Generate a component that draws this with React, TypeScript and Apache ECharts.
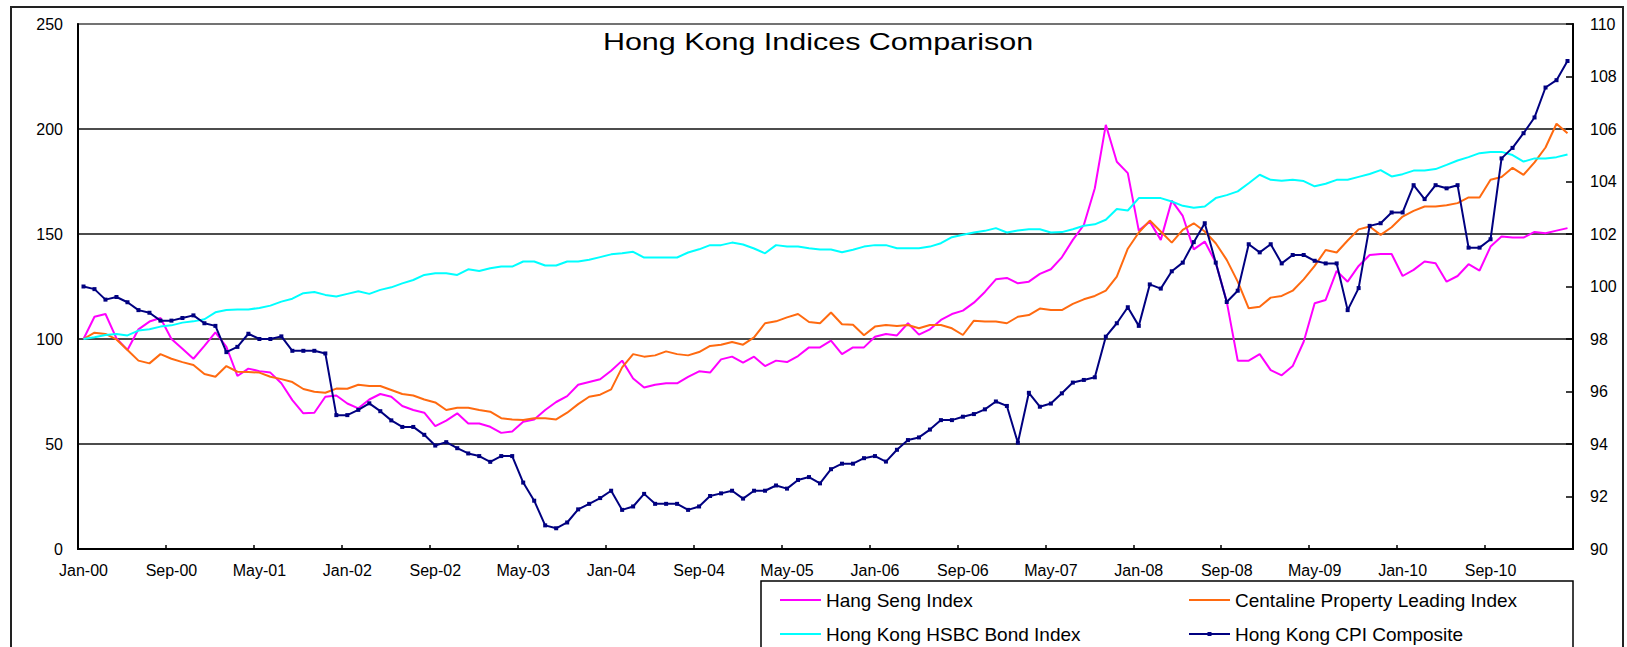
import React, { useEffect, useRef } from "react";
import * as echarts from "echarts";

const MONTH_NAMES = ["Jan", "Feb", "Mar", "Apr", "May", "Jun", "Jul", "Aug", "Sep", "Oct", "Nov", "Dec"];
// Monthly categories Jan-00 .. Apr-11
const months: string[] = [];
for (let i = 0; i < 136; i++) {
  const y = 2000 + Math.floor(i / 12);
  months.push(`${MONTH_NAMES[i % 12]}-${String(y % 100).padStart(2, "0")}`);
}

const hangSeng = [
  100, 110.6, 111.9, 100.3, 94.8, 104.6, 108.3, 110.0, 100, 95.4, 90.6, 96.7,
  103.2, 96.3, 82.4, 85.9, 84.7, 84.0, 78.9, 70.9, 64.6, 64.9, 72.5, 73.1,
  69.3, 67.0, 71.2, 73.8, 72.5, 68.1, 66.2, 64.9, 58.5, 61.1, 64.6, 59.8,
  59.8, 58.2, 55.3, 56.0, 60.6, 61.7, 66.2, 70.0, 72.8, 78.2, 79.5, 80.8,
  84.9, 89.7, 81.2, 76.9, 78.2, 78.9, 78.9, 82.0, 84.6, 84.0, 90.3, 91.6,
  88.7, 91.6, 87.1, 89.7, 89.0, 91.9, 96.0, 96.0, 99.2, 92.8, 96.0, 96.0,
  101.1, 102.4, 101.7, 107.5, 102.1, 104.6, 109.1, 111.9, 113.5, 117.3, 122.4, 128.4,
  129.1, 126.5, 127.3, 131.0, 133.2, 138.9, 147.2, 154.3, 171.8, 202.0, 184.4, 179.0,
  151.6, 155.9, 147.2, 165.9, 158.6, 142.7, 146.4, 136.4, 117.8, 89.7, 89.7, 92.8,
  85.2, 82.7, 87.1, 98.7, 117.0, 118.6, 132.4, 127.3, 134.8, 140.0, 140.5, 140.5,
  130.0, 132.9, 136.9, 136.1, 127.3, 130.0, 135.6, 132.6, 144.0, 148.8, 148.3, 148.3,
  151.0, 150.4, 151.6, 152.8,
];

const centaline = [
  100, 103, 102.4, 99.8, 94.8, 89.7, 88.4, 92.8, 90.6, 89.0, 87.6, 83.3,
  82.0, 87.1, 84.4, 84.3, 84.0, 82.0, 80.9, 79.5, 76.2, 74.9, 74.4, 76.4,
  76.3, 78.2, 77.6, 77.6, 75.7, 73.8, 73.1, 71.2, 69.8, 66.2, 67.3, 67.3,
  66.2, 65.4, 62.3, 61.7, 61.4, 62.3, 62.3, 61.7, 64.9, 69.0, 72.5, 73.5,
  76.0, 86.5, 92.8, 91.6, 92.2, 94.1, 92.8, 92.2, 93.8, 96.7, 97.3, 98.6,
  97.3, 100.8, 107.5, 108.4, 110.3, 111.9, 108.1, 107.5, 112.6, 107.0, 106.8, 101.8,
  105.9, 106.7, 106.2, 106.7, 105.1, 106.7, 106.7, 105.1, 101.9, 108.7, 108.3, 108.3,
  107.5, 110.6, 111.4, 114.5, 113.8, 113.8, 116.7, 118.9, 120.5, 123.0, 129.7, 143.0,
  150.7, 156.4, 151.2, 145.9, 152.0, 155.1, 151.2, 145.6, 137.7, 127.3, 114.6, 115.4,
  119.7, 120.5, 123.0, 128.4, 134.8, 142.4, 141.2, 146.9, 152.2, 153.6, 149.6, 153.2,
  158.3, 161.0, 163.1, 163.1, 163.7, 164.7, 167.4, 167.4, 175.8, 177.1, 181.5, 178.2,
  184.1, 191.2, 202.5, 198.0,
];

const hsbcBond = [
  100, 100.8, 101.9, 102.4, 101.7, 104, 104.6, 105.9, 106.5, 107.8, 108.4, 109.4,
  112.7, 113.8, 114.1, 114.1, 114.8, 115.9, 117.8, 119.2, 121.8, 122.4, 121, 120.2,
  121.5, 122.7, 121.5, 123.4, 124.6, 126.5, 128.1, 130.5, 131.3, 131.3, 130.5, 133.2,
  132.4, 133.7, 134.5, 134.5, 136.9, 136.9, 135.0, 135.0, 136.9, 136.9, 137.7, 139.0,
  140.3, 140.8, 141.5, 138.8, 138.8, 138.8, 138.8, 141.2, 142.7, 144.7, 144.7, 145.9,
  145.0, 143.1, 140.8, 144.7, 144.0, 144.0, 143.2, 142.6, 142.6, 141.3, 142.5, 144.0,
  144.7, 144.7, 143.2, 143.2, 143.2, 144.0, 145.6, 148.5, 149.6, 150.7, 151.5, 152.8,
  150.7, 151.7, 152.3, 152.3, 150.7, 150.9, 152.3, 153.9, 154.6, 156.8, 161.9, 161.2,
  167.1, 167.1, 167.1, 165.5, 163.4, 162.5, 163.1, 167.1, 168.5, 170.3, 174.2, 178.2,
  175.8, 175.3, 175.8, 175.2, 172.7, 173.9, 175.8, 175.8, 177.2, 178.6, 180.4, 177.4,
  178.5, 180.2, 180.2, 180.9, 182.9, 185.0, 186.6, 188.5, 189.1, 189.1, 187.6, 184.5,
  186.0, 186.0, 186.6, 187.9,
];

const cpiComposite = [
  100.0, 99.9, 99.5, 99.6, 99.4, 99.1, 99.0, 98.7, 98.7, 98.8, 98.9, 98.6,
  98.5, 97.5, 97.7, 98.2, 98.0, 98.0, 98.1, 97.55, 97.55, 97.55, 97.45, 95.1,
  95.1, 95.3, 95.55, 95.25, 94.9, 94.65, 94.65, 94.35, 93.94, 94.07, 93.84, 93.64,
  93.54, 93.32, 93.54, 93.54, 92.53, 91.84, 90.9, 90.79, 91.01, 91.51, 91.72, 91.94,
  92.22, 91.49, 91.62, 92.1, 91.72, 91.72, 91.72, 91.49, 91.62, 92.02, 92.12, 92.22,
  91.92, 92.22, 92.22, 92.42, 92.3, 92.63, 92.74, 92.5, 93.04, 93.25, 93.25, 93.46,
  93.54, 93.33, 93.78, 94.15, 94.25, 94.55, 94.91, 94.91, 95.04, 95.14, 95.32, 95.62,
  95.45, 94.05, 95.95, 95.42, 95.54, 95.93, 96.34, 96.44, 96.54, 98.09, 98.6, 99.21,
  98.5, 100.08, 99.92, 100.58, 100.91, 101.69, 102.41, 100.91, 99.41, 99.84, 101.61, 101.3,
  101.61, 100.88, 101.2, 101.2, 100.98, 100.88, 100.88, 99.1, 99.94, 102.31, 102.41, 102.82,
  102.82, 103.86, 103.33, 103.86, 103.74, 103.86, 101.48, 101.48, 101.8, 104.88, 105.28, 105.84,
  106.44, 107.58, 107.86, 108.59,
];

const leftTicks = { min: 0, max: 250, interval: 50 };
const rightTicks = { min: 90, max: 110, interval: 2 };

const TITLE = "Hong Kong Indices Comparison";
const FONT = '"Liberation Sans", Arial, Helvetica, sans-serif';

// legend glyphs: a plain line, and a line with a small square marker
const LINE_ICON = "path://M0,2h41v2h-41z";
const MARKER_ICON = "path://M0,2h41v2h-41z M18.5,1h4v4h-4z";

export default function App() {
  const ref = useRef<HTMLDivElement>(null);

  useEffect(() => {
    if (!ref.current) return;
    const chart = echarts.init(ref.current, undefined, { renderer: "svg" });
    const legendCommon = {
      orient: "vertical" as const,
      top: 590,
      itemWidth: 41,
      itemHeight: 6,
      itemGap: 14,
      padding: 0,
      selectedMode: false,
      textStyle: { fontFamily: FONT, fontSize: 19, color: "#000", lineHeight: 20 },
    };
    chart.setOption({
      animation: false,
      backgroundColor: "#ffffff",
      textStyle: { fontFamily: FONT },
      grid: {
        left: 78,
        right: 54,
        top: 24,
        bottom: 98,
        show: true,
        borderColor: "#737373",
        borderWidth: 2,
        backgroundColor: "transparent",
      },
      xAxis: {
        type: "category",
        data: months,
        boundaryGap: true,
        axisLine: { lineStyle: { color: "#000", width: 2 } },
        axisTick: { show: true, interval: 7, inside: true, length: 4, lineStyle: { color: "#000", width: 1.5 } },
        axisLabel: { interval: 7, color: "#000", fontSize: 16, fontFamily: FONT, margin: 13 },
        splitLine: { show: false },
      },
      yAxis: [
        {
          type: "value",
          position: "left",
          ...leftTicks,
          axisLine: { show: true, lineStyle: { color: "#000", width: 2 } },
          axisTick: { show: false },
          axisLabel: { color: "#000", fontSize: 16, fontFamily: FONT, margin: 15 },
          splitLine: { show: true, showMinLine: false, showMaxLine: false, lineStyle: { color: "#111", width: 1.5 } },
        },
        {
          type: "value",
          position: "right",
          ...rightTicks,
          axisLine: { show: true, lineStyle: { color: "#000", width: 2 } },
          axisTick: { show: true, inside: true, length: 7, lineStyle: { color: "#000", width: 1.5 } },
          axisLabel: { color: "#000", fontSize: 16, fontFamily: FONT, margin: 17 },
          splitLine: { show: false },
        },
      ],
      legend: [
        {
          ...legendCommon,
          left: 780,
          data: [
            { name: "Hang Seng Index", icon: LINE_ICON },
            { name: "Hong Kong HSBC Bond Index", icon: LINE_ICON },
          ],
        },
        {
          ...legendCommon,
          left: 1189,
          data: [
            { name: "Centaline Property Leading Index", icon: LINE_ICON },
            { name: "Hong Kong CPI Composite", icon: MARKER_ICON },
          ],
        },
      ],
      graphic: [
        {
          type: "rect",
          shape: { x: 11, y: 7, width: 1612, height: 700 },
          style: { fill: "none", stroke: "#222", lineWidth: 2 },
          silent: true,
        },
        {
          type: "rect",
          shape: { x: 761, y: 581, width: 812, height: 100 },
          style: { fill: "none", stroke: "#000", lineWidth: 1.5 },
          silent: true,
        },
        {
          type: "text",
          x: 818,
          y: 42,
          scaleX: 1.27,
          style: {
            text: TITLE,
            font: `24px ${FONT}`,
            fill: "#000",
            align: "center",
            verticalAlign: "middle",
          },
          silent: true,
        },
      ],
      series: [
        {
          name: "Hang Seng Index",
          type: "line",
          data: hangSeng,
          symbol: "none",
          lineStyle: { color: "#FF00FF", width: 2 },
          itemStyle: { color: "#FF00FF" },
        },
        {
          name: "Centaline Property Leading Index",
          type: "line",
          data: centaline,
          symbol: "none",
          lineStyle: { color: "#FF6A10", width: 2 },
          itemStyle: { color: "#FF6A10" },
        },
        {
          name: "Hong Kong HSBC Bond Index",
          type: "line",
          data: hsbcBond,
          symbol: "none",
          lineStyle: { color: "#00FFFF", width: 2 },
          itemStyle: { color: "#00FFFF" },
        },
        {
          name: "Hong Kong CPI Composite",
          type: "line",
          yAxisIndex: 1,
          data: cpiComposite,
          symbol: "rect",
          symbolSize: 4,
          showSymbol: true,
          showAllSymbol: true,
          lineStyle: { color: "#000080", width: 2 },
          itemStyle: { color: "#000080" },
        },
      ],
    });
    return () => chart.dispose();
  }, []);

  return (
    <div
      ref={ref}
      style={{ position: "fixed", left: 0, top: 0, width: 1627, height: 647, background: "#fff" }}
    />
  );
}
